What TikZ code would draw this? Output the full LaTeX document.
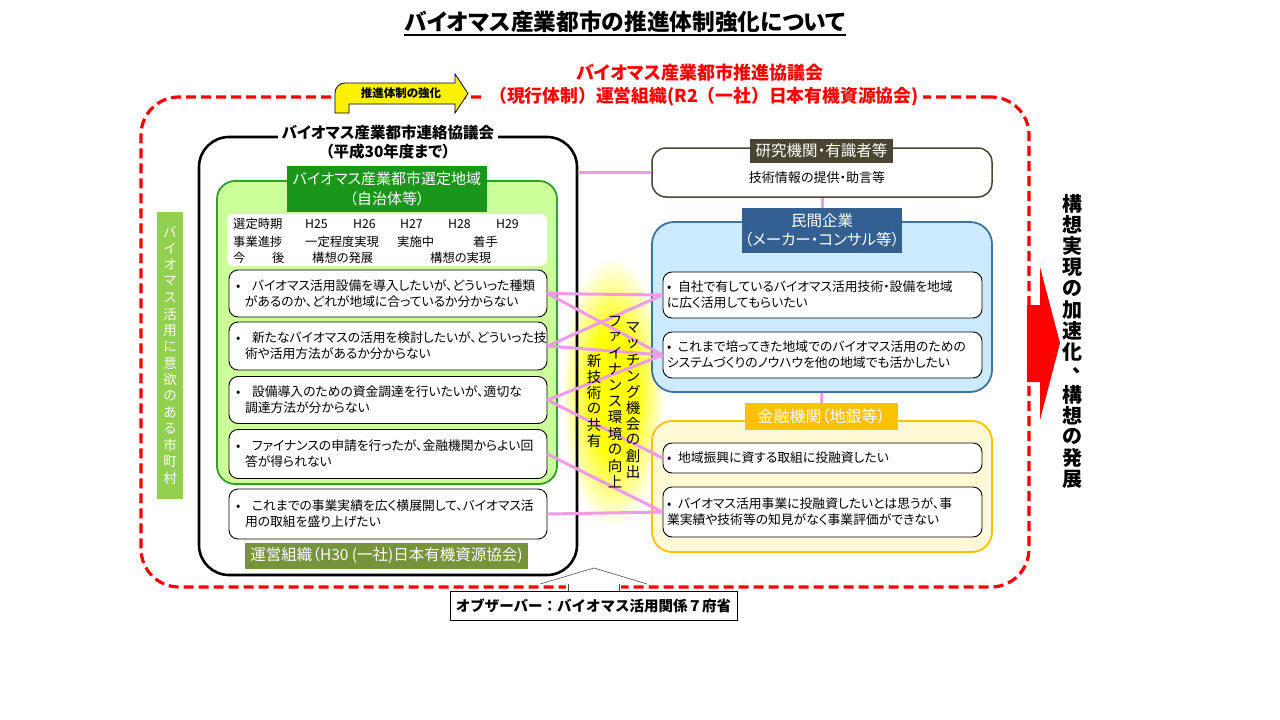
\documentclass[tikz,border=0pt]{standalone}
\usepackage{fontspec}
\setmainfont{Noto Sans CJK JP}[RawFeature=+palt]
\newfontfamily\widefont{Noto Sans CJK JP}
\usetikzlibrary{calc}
\definecolor{lgreen}{HTML}{CCFF99}
\definecolor{gborder}{HTML}{2CA02C}
\definecolor{dgreen}{HTML}{1A961A}
\definecolor{oliveg}{HTML}{77933C}
\definecolor{vgreen}{HTML}{92D050}
\definecolor{rbrown}{HTML}{4A4530}
\definecolor{lblue}{HTML}{CDEBFF}
\definecolor{bborder}{HTML}{41719C}
\definecolor{dblue}{HTML}{335F91}
\definecolor{gold}{HTML}{FFC000}
\definecolor{lyellow}{HTML}{FFFAD5}
\definecolor{pinkl}{HTML}{F09BEA}
\newcommand\myfs[2]{\fontsize{#1pt}{#2pt}\selectfont}
\newcommand\lbul{\makebox[16pt][l]{•}}
\newcommand\rbul{\makebox[11pt][l]{•}}
\ExplSyntaxOn
\NewDocumentCommand\VT{mm}{
  \vbox{\offinterlineskip
    \tl_map_inline:nn {#2} {\vbox_to_ht:nn {#1} {\vss
      \str_if_eq:nnTF {##1} {、}
        {\hbox_to_wd:nn {1.2em} {\hss \hspace{0.55em}\raisebox{0.3em}{##1} \hss}}
        {\hbox_to_wd:nn {1.2em} {\hss ##1 \hss}}
      \vss}}
  }
}
\ExplSyntaxOff
\pgfdeclareradialshading{glow}{\pgfpoint{0bp}{0bp}}{color(0bp)=(yellow); color(11bp)=(yellow); color(25bp)=(white); color(50bp)=(white)}
\begin{document}
\begin{tikzpicture}[x=1pt,y=-1pt,
  lbox/.style={draw=black,line width=0.9pt,fill=white,rounded corners=9pt,minimum width=318pt,text width=304pt,inner xsep=7pt,inner ysep=2pt,align=left,font=\myfs{12.8}{16}},
  rbox/.style={draw=black,line width=0.9pt,fill=white,rounded corners=9pt,minimum width=319pt,text width=311pt,inner xsep=4pt,inner ysep=2pt,align=left,font=\myfs{12.8}{16}},
  plink/.style={draw=pinkl,line width=3pt},
  tagbox/.style={text=white,align=center,inner sep=0pt},
  tbl/.style={anchor=west,inner sep=0pt,font=\myfs{12.3}{14}}
]
\useasboundingbox (0,0) rectangle (1280,720);
\fill[white] (0,0) rectangle (1280,720);

% glow
\shade[shading=glow] (613,392) ellipse [x radius=52, y radius=135];

% red dashed council border
\node[draw=red,line width=3.2pt,dash pattern=on 10pt off 5pt,rounded corners=38pt,minimum width=888pt,minimum height=490pt,inner sep=0pt] (council) at (585,342) {};

% yellow arrow
\draw[fill=yellow,line width=0.8pt] (335,113) [rounded corners=10pt] -- (335,83) [sharp corners] -- (455,83) -- (455,74) -- (468,93.5) -- (455,113) -- (455,104) -- (349,104) -- (349,113) -- cycle;
\node[font=\bfseries\myfs{11.5}{12},inner sep=0pt] (strong) at (401,93) {推進体制の強化};

% red titles
\node[text=red,font=\bfseries\myfs{18}{20},inner sep=0pt] (pc1) at (700,73) {バイオマス産業都市推進協議会};
\node[text=red,fill=white,font=\widefont\bfseries\myfs{17.8}{20},inner xsep=4pt,inner ysep=1pt] (pc2) at (704,97) {（現行体制）運営組織(R2（一社）日本有機資源協会)};

% black liaison box
\node[draw=black,line width=2.6pt,rounded corners=30pt,minimum width=378pt,minimum height=438pt,inner sep=0pt] (liaison) at (388,356) {};
\node[fill=white,font=\bfseries\myfs{15.5}{18.5},align=center,inner xsep=4pt,inner ysep=0pt] (liaisontitle) at (388,142) {バイオマス産業都市連絡協議会\\（平成30年度まで）};

% green selected area
\node[draw=gborder,line width=1.8pt,fill=lgreen,rounded corners=18pt,minimum width=340pt,minimum height=303pt,inner sep=0pt] (selected) at (387,332.5) {};
\node[tagbox,fill=dgreen,minimum width=200pt,minimum height=46pt,font=\myfs{15}{20}] (seltag) at (387,189) {バイオマス産業都市選定地域\\（自治体等）};

% table
\node[fill=white,rounded corners=6pt,minimum width=320pt,minimum height=52pt,inner sep=0pt] (tblbg) at (387,240) {};
\node[tbl] (t11) at (233,224) {選定時期};
\node[tbl] (t12) at (305,224) {H25};
\node[tbl] (t13) at (353,224) {H26};
\node[tbl] (t14) at (400,224) {H27};
\node[tbl] (t15) at (448,224) {H28};
\node[tbl] (t16) at (496,224) {H29};
\node[tbl] (t21) at (233,242) {事業進捗};
\node[tbl] (t22) at (305,242) {一定程度実現};
\node[tbl] (t23) at (397,242) {実施中};
\node[tbl] (t24) at (473,242) {着手};
\node[tbl] (t31) at (233,258) {今};
\node[tbl] (t32) at (272,258) {後};
\node[tbl] (t33) at (312,258) {構想の発展};
\node[tbl] (t34) at (430,258) {構想の実現};

% left boxes
\node[lbox,minimum height=47pt] (a) at (388,293.5) {\lbul バイオマス活用設備を導入したいが、どういった種類\\\hspace*{9pt}があるのか、どれが地域に合っているか分からない};
\node[lbox,minimum height=48pt] (b) at (388,346) {\lbul 新たなバイオマスの活用を検討したいが、どういった技\\\hspace*{9pt}術や活用方法があるか分からない};
\node[lbox,minimum height=47pt] (c) at (388,400) {\lbul 設備導入のための資金調達を行いたいが、適切な\\\hspace*{9pt}調達方法が分からない};
\node[lbox,minimum height=49pt] (d) at (388,454) {\lbul ファイナンスの申請を行ったが、金融機関からよい回\\\hspace*{9pt}答が得られない};
\node[lbox,minimum height=50pt] (e) at (388,514) {\lbul これまでの事業実績を広く横展開して、バイオマス活\\\hspace*{9pt}用の取組を盛り上げたい};
\node[tagbox,fill=oliveg,minimum width=283pt,minimum height=26pt,font=\myfs{15.5}{17}] (optag) at (386.5,555.5) {運営組織（H30 (一社)日本有機資源協会)};

% left vertical tag
\node[tagbox,fill=vgreen,minimum width=26pt,minimum height=287pt,font=\myfs{13.5}{14}] (muni) at (170,355) {\VT{16.4pt}{バイオマス活用に意欲のある市町村}};

% research
\node[draw=rbrown,line width=1.5pt,fill=white,rounded corners=14pt,minimum width=340pt,minimum height=49pt,inner sep=0pt] (research) at (822,172.5) {};
\node[tagbox,fill=rbrown,minimum width=143pt,minimum height=24pt,font=\myfs{15.5}{17}] (restag) at (821.5,151) {研究機関・有識者等};
\node[inner sep=0pt,font=\myfs{13}{14}] (restext) at (817,178) {技術情報の提供・助言等};

% private companies
\node[draw=bborder,line width=1.8pt,fill=lblue,rounded corners=22pt,minimum width=340pt,minimum height=170pt,inner sep=0pt] (private) at (822,307) {};
\node[tagbox,fill=dblue,minimum width=160pt,minimum height=45pt,font=\myfs{15.5}{19}] (pritag) at (822,230.5) {民間企業\\（メーカー・コンサル等）};
\node[rbox,minimum height=46pt] (f1) at (822.5,295) {\rbul 自社で有しているバイオマス活用技術・設備を地域\\に広く活用してもらいたい};
\node[rbox,minimum height=46pt] (f2) at (822.5,355) {\rbul これまで培ってきた地域でのバイオマス活用のための\\システムづくりのノウハウを他の地域でも活かしたい};

% finance
\node[draw=gold,line width=1.8pt,fill=lyellow,rounded corners=20pt,minimum width=340pt,minimum height=131pt,inner sep=0pt] (finance) at (822,486.5) {};
\node[tagbox,fill=gold,minimum width=153pt,minimum height=27pt,font=\myfs{16}{17}] (fintag) at (821.5,416.5) {金融機関（地銀等）};
\node[rbox,minimum height=30pt] (f3) at (822.5,458) {\rbul 地域振興に資する取組に投融資したい};
\node[rbox,minimum height=50pt] (f4) at (822.5,512) {\rbul バイオマス活用事業に投融資したいとは思うが、事\\業実績や技術等の知見がなく事業評価ができない};

% pink links
\draw[plink] (research.west) -- (research.west -| liaison.east);
\draw[plink] (research.south) -- (pritag.north);
\draw[plink] (private.south) -- (fintag.north);
\draw[plink] (a.east) -- (f1.west);
\draw[plink] (a.east) -- (f2.west);
\draw[plink] (b.east) -- (f1.west);
\draw[plink] (b.east) -- (f2.west);
\draw[plink] (c.east) -- (f2.west);
\draw[plink] (c.east) -- (f3.west);
\draw[plink] (d.east) -- (f4.west);
\draw[plink] (e.east) -- (f4.west);

% center vertical texts
\node[inner sep=0pt,font=\myfs{14.5}{16}] (v1) at (633,400) {\VT{16pt}{マッチング機会の創出}};
\node[inner sep=0pt,font=\myfs{14.5}{16}] (v2) at (615,401.5) {\VT{16pt}{ファイナンス環境の向上}};
\node[inner sep=0pt,font=\myfs{14.5}{16}] (v3) at (594,401) {\VT{16pt}{新技術の共有}};

% big red arrow and result text
\fill[red] (1027,305) -- (1040,305) -- (1040,267) -- (1060,343) -- (1040,420) -- (1040,382) -- (1027,382) -- cycle;
\node[inner sep=0pt,font=\bfseries\myfs{20}{21}] (result) at (1072,341.5) {\VT{21.2pt}{構想実現の加速化、構想の発展}};

% observer callout
\fill[white] (566,578) rectangle (621,592);
\coordinate (apex) at (594,568);
\draw[black!70,line width=0.6pt] (540,584) -- (apex) -- (647,584);
\draw[black!70,line width=0.6pt] (568,584) -- (568,592) (619,584) -- (619,592);
\node[draw=black,line width=0.8pt,fill=white,minimum width=287pt,minimum height=29pt,inner sep=0pt,font=\widefont\bfseries\myfs{14.5}{16}] (obs) at (593.5,606) {オブザーバー：バイオマス活用関係７府省};

% title
\node[inner sep=0pt,font=\bfseries\myfs{22.7}{24}] (title) at (625,22) {バイオマス産業都市の推進体制強化について};
\draw[line width=1.6pt] ($(title.south west)+(0,2)$) -- ($(title.south east)+(0,2)$);
\end{tikzpicture}
\end{document}
